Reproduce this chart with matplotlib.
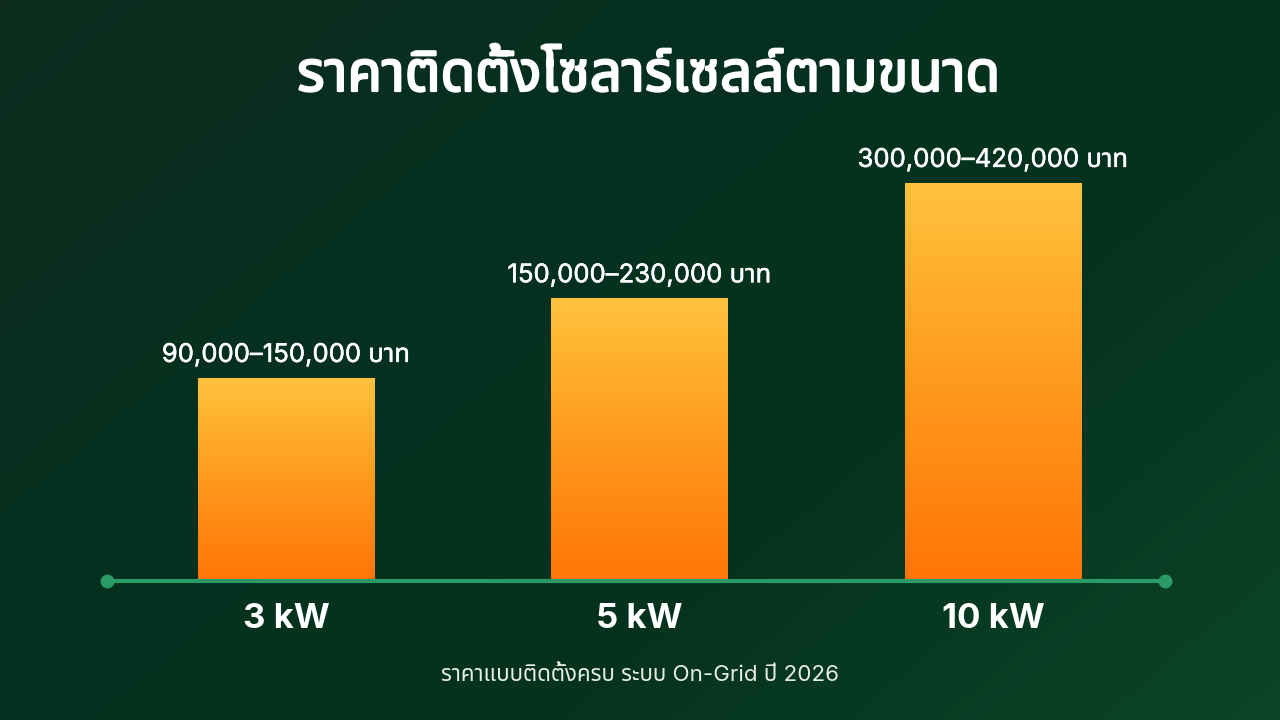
import numpy as np
import matplotlib
matplotlib.use("Agg")
from matplotlib import pyplot as plt
from matplotlib import font_manager
from matplotlib import patheffects as pe
from matplotlib.colors import LinearSegmentedColormap
from matplotlib.patches import Rectangle

title = "ราคาติดตั้งโซลาร์เซลล์ตามขนาด"
footnote = "ราคาแบบติดตั้งครบ ระบบ On-Grid ปี 2026"
categories = ["3 kW", "5 kW", "10 kW"]
price_labels = ["90,000–150,000 บาท", "150,000–230,000 บาท", "300,000–420,000 บาท"]
# bar heights as drawn (10 kW bar = 100)
bar_heights = [51, 71, 100]


def thai_families():
    """installed families that have Thai glyphs"""
    try:
        from fontTools.ttLib import TTFont
    except Exception:
        return []
    found = []
    for f in font_manager.fontManager.ttflist:
        if f.name in found:
            continue
        try:
            tt = TTFont(f.fname, fontNumber=0, lazy=True)
            cmap = tt.getBestCmap()
            if cmap and ord("ร") in cmap and ord("บ") in cmap:
                found.append(f.name)
        except Exception:
            pass
    return found


def pick_thai(found):
    prefer = ["Noto Sans Thai", "Noto Sans Thai UI", "Kanit", "Prompt",
              "IBM Plex Sans Thai", "Sarabun", "Noto Sans Thai Looped"]
    for p in prefer:
        if p in found:
            return p
    return found[0] if found else None


thai = pick_thai(thai_families())
thai_list = [thai] if thai else []
plt.rcParams["font.family"] = ["Inter", "Open Sans"] + thai_list + ["DejaVu Sans"]


def bolder(w):
    """fake extra weight with a stroke of the text colour"""
    return [pe.Stroke(linewidth=w, foreground="white"), pe.Normal()]


fig = plt.figure(figsize=(12.8, 7.2), dpi=100)

# background gradient
bg = fig.add_axes([0, 0, 1, 1])
bg.set_axis_off()
xx, yy = np.meshgrid(np.linspace(0, 1, 256), np.linspace(0, 1, 144))
t = (xx * 0.6 + yy * 0.4)
bg_cmap = LinearSegmentedColormap.from_list(
    "bg", ["#0c2b1d", "#05301f", "#05331f", "#0c4428"])
bg.imshow(t, cmap=bg_cmap, aspect="auto", extent=[0, 1, 0, 1], origin="upper")
bg.set_xlim(0, 1)
bg.set_ylim(0, 1)

# main axes: baseline at y px 581, x from 107 to 1165
W, H = 1280, 720
left, right = 107, 1165
base, top = 581, 140
ax = fig.add_axes([left / W, (H - base) / H, (right - left) / W, (base - top) / H])
ax.set_axis_off()
ax.patch.set_alpha(0)
x = np.arange(len(categories))
unit = (993 - 286) / 2
ax.set_xlim(-(286 - left) / unit, 2 + (right - 993) / unit)
ax.set_ylim(0, 100 * (base - top) / (base - 183))

bar_w = 177 / unit
bar_cmap = LinearSegmentedColormap.from_list("bar", ["#ff7507", "#ff9a1c", "#ffc23d"])
grad = np.linspace(0, 1, 256).reshape(-1, 1)
for xi, h in zip(x, bar_heights):
    im = ax.imshow(grad, cmap=bar_cmap, aspect="auto", origin="lower",
                   extent=[xi - bar_w / 2, xi + bar_w / 2, 0, h], zorder=2)
    rect = Rectangle((xi - bar_w / 2, 0), bar_w, h, transform=ax.transData,
                     facecolor="none", edgecolor="none")
    ax.add_patch(rect)
    im.set_clip_path(rect)

for xi, h, lab in zip(x, bar_heights, price_labels):
    ax.annotate(lab, (xi, h), xytext=(0, 8), textcoords="offset points",
                ha="center", va="bottom", color="white", fontsize=18.5,
                fontweight="normal", zorder=4, path_effects=bolder(0.35))

for xi, cat in zip(x, categories):
    ax.annotate(cat, (xi, 0), xytext=(0, -27), textcoords="offset points",
                ha="center", va="center", color="white", fontsize=25,
                fontweight="bold", zorder=4)

xl = ax.get_xlim()
ax.plot(xl, [0, 0], color="#2a9a66", lw=3, zorder=3, clip_on=False,
        solid_capstyle="butt")
ax.plot(xl, [0, 0], "o", color="#2a9a66", ms=9, zorder=3, clip_on=False)

fig.text(649 / W, 1 - 76 / H, title, ha="center", va="center", color="white",
         fontsize=40.5, fontweight="bold", path_effects=bolder(1.6))
fig.text(640 / W, 1 - 675 / H, footnote, ha="center", va="center",
         color="#e6ece8", fontsize=16.1)

fig.savefig("out.png", dpi=100)
